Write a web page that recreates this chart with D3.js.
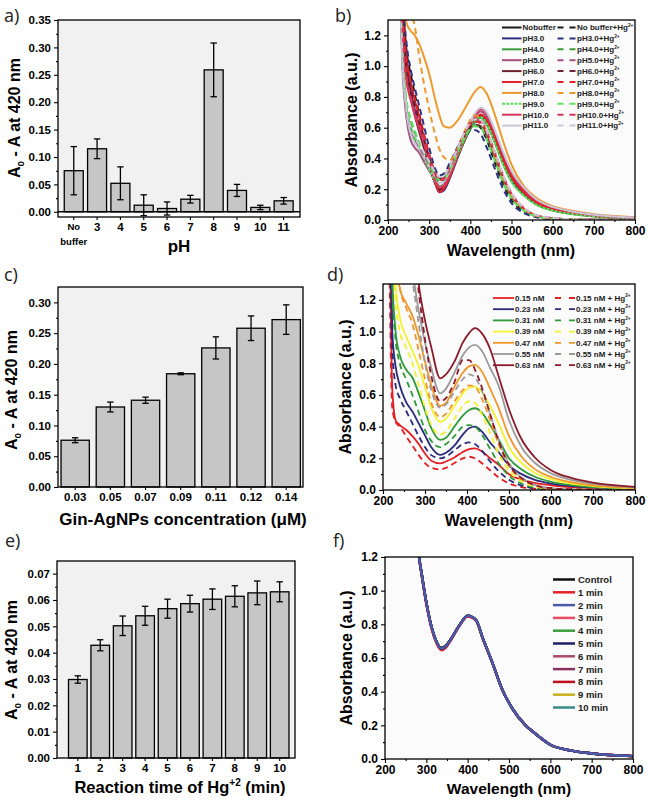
<!DOCTYPE html>
<html><head><meta charset="utf-8">
<script src="https://cdn.jsdelivr.net/npm/d3@7"></script>
<style>body{margin:0;background:#fff}svg{display:block}</style>
</head><body><svg id="chart" width="648" height="802"></svg>
<script>
// ---------- DATA ----------
// (a) pH effect
const phCats = ["No buffer","3","4","5","6","7","8","9","10","11"];
const phValues = [0.075,0.115,0.052,0.012,0.006,0.023,0.259,0.039,0.008,0.020];
const phErrors = [0.044,0.018,0.030,0.019,0.012,0.007,0.049,0.011,0.004,0.006];
const phTicks = [0,0.05,0.10,0.15,0.20,0.25,0.30,0.35];
const phMinor = [0.025,0.075,0.125,0.175,0.225,0.275,0.325];
// (c) concentration
const concCats = ["0.03","0.05","0.07","0.09","0.11","0.12","0.14"];
const concValues = [0.076,0.130,0.141,0.184,0.226,0.258,0.272];
const concErrors = [0.004,0.008,0.005,0.0015,0.018,0.020,0.024];
const concTicks = [0,0.05,0.10,0.15,0.20,0.25,0.30];
const concMinor = [0.025,0.075,0.125,0.175,0.225,0.275];
// (e) reaction time
const timeCats = ["1","2","3","4","5","6","7","8","9","10"];
const timeValues = [0.0298,0.0428,0.0502,0.0540,0.0567,0.0586,0.0603,0.0614,0.0627,0.0631];
const timeErrors = [0.0014,0.0021,0.0037,0.0036,0.0036,0.0032,0.0039,0.0040,0.0045,0.0038];
const timeTicks = [0,0.01,0.02,0.03,0.04,0.05,0.06,0.07];
const timeMinor = [0.005,0.015,0.025,0.035,0.045,0.055,0.065];

// spectra axes
const wlTicks = [200,300,400,500,600,700,800];
const wlMinor = [250,350,450,550,650,750];
const absTicks = [0,0.2,0.4,0.6,0.8,1.0,1.2];
const absMinor = [0.1,0.3,0.5,0.7,0.9,1.1];

// (b) pH spectra
const wavelengthsB = [225,235,245,255,265,275,285,300,315,325,335,350,370,390,410,425,440,460,480,500,530,560,600,650,700,800];
const bNoBuffer = [2.2,1.35,0.98,0.82,0.70,0.60,0.50,0.36,0.24,0.195,0.21,0.29,0.42,0.54,0.64,0.68,0.64,0.52,0.38,0.27,0.17,0.11,0.07,0.042,0.027,0.012];
const bPH3 = [2.3,1.4,1.0,0.84,0.72,0.62,0.52,0.36,0.235,0.18,0.19,0.27,0.41,0.54,0.64,0.675,0.63,0.51,0.37,0.26,0.165,0.105,0.065,0.04,0.025,0.011];
const bPH4 = [2.0,1.1,0.72,0.6,0.52,0.46,0.41,0.33,0.25,0.21,0.22,0.29,0.42,0.54,0.63,0.665,0.62,0.5,0.36,0.25,0.16,0.1,0.062,0.038,0.024,0.01];
const bPH5 = [1.9,1.0,0.66,0.52,0.47,0.44,0.39,0.32,0.26,0.22,0.23,0.31,0.44,0.57,0.67,0.705,0.67,0.55,0.41,0.3,0.19,0.125,0.08,0.05,0.032,0.015];
const bPH6 = [2.2,1.3,0.95,0.8,0.68,0.58,0.49,0.35,0.24,0.2,0.215,0.3,0.43,0.55,0.645,0.68,0.645,0.53,0.39,0.28,0.175,0.112,0.07,0.043,0.027,0.012];
const bPH7 = [2.4,1.5,1.08,0.9,0.78,0.68,0.56,0.38,0.24,0.18,0.2,0.28,0.42,0.55,0.65,0.685,0.65,0.53,0.39,0.28,0.18,0.115,0.072,0.045,0.028,0.013];
const bPH8 = [2.6,1.6,1.28,1.23,1.2,1.15,1.08,0.95,0.78,0.68,0.61,0.6,0.65,0.74,0.83,0.865,0.82,0.68,0.51,0.36,0.22,0.145,0.09,0.058,0.038,0.018];
const bPH9 = [2.0,1.05,0.74,0.62,0.54,0.48,0.42,0.33,0.25,0.215,0.225,0.3,0.43,0.55,0.64,0.67,0.625,0.5,0.36,0.25,0.16,0.1,0.062,0.038,0.024,0.01];
const bPH10 = [2.1,1.2,0.9,0.78,0.68,0.6,0.52,0.38,0.26,0.21,0.22,0.3,0.44,0.57,0.68,0.72,0.69,0.57,0.43,0.31,0.2,0.13,0.082,0.052,0.033,0.015];
const bPH11 = [2.0,1.05,0.7,0.56,0.5,0.46,0.42,0.35,0.28,0.24,0.25,0.32,0.45,0.58,0.69,0.73,0.7,0.58,0.44,0.32,0.21,0.135,0.085,0.054,0.034,0.016];
const bNoBufferHg = [2.3,1.45,1.1,0.95,0.82,0.7,0.58,0.42,0.3,0.26,0.27,0.34,0.46,0.57,0.62,0.6,0.52,0.37,0.23,0.13,0.055,0.022,0.008,0.003,0.002,0];
const bPH3Hg = [2.4,1.5,1.15,0.98,0.86,0.75,0.64,0.47,0.33,0.29,0.3,0.37,0.48,0.57,0.585,0.56,0.47,0.33,0.2,0.11,0.045,0.018,0.007,0.003,0.002,0];
const bPH4Hg = [2.0,1.1,0.76,0.65,0.57,0.5,0.44,0.36,0.28,0.25,0.26,0.33,0.45,0.56,0.62,0.61,0.54,0.4,0.26,0.15,0.065,0.027,0.01,0.004,0.002,0];
const bPH5Hg = [2.0,1.05,0.72,0.6,0.53,0.48,0.43,0.36,0.29,0.26,0.27,0.34,0.46,0.58,0.645,0.64,0.57,0.43,0.28,0.17,0.075,0.03,0.012,0.005,0.003,0];
const bPH6Hg = [2.2,1.35,1.0,0.86,0.75,0.65,0.55,0.41,0.3,0.27,0.28,0.35,0.47,0.57,0.62,0.61,0.54,0.4,0.26,0.15,0.065,0.026,0.01,0.004,0.002,0];
const bPH7Hg = [2.3,1.4,1.05,0.9,0.79,0.69,0.58,0.43,0.3,0.26,0.27,0.34,0.47,0.58,0.64,0.63,0.56,0.42,0.27,0.16,0.07,0.028,0.011,0.004,0.002,0];
const bPH8Hg = [2.8,2.0,1.55,1.36,1.26,1.08,0.92,0.72,0.55,0.46,0.41,0.39,0.47,0.6,0.68,0.66,0.58,0.42,0.27,0.16,0.07,0.028,0.011,0.004,0.002,0];
const bPH9Hg = [2.0,1.1,0.78,0.66,0.58,0.51,0.45,0.37,0.29,0.26,0.265,0.33,0.45,0.56,0.61,0.6,0.52,0.38,0.24,0.14,0.06,0.024,0.009,0.004,0.002,0];
const bPH10Hg = [2.1,1.25,0.93,0.8,0.7,0.62,0.54,0.41,0.3,0.26,0.265,0.34,0.47,0.59,0.655,0.65,0.58,0.44,0.29,0.175,0.08,0.032,0.013,0.005,0.003,0];
const bPH11Hg = [2.0,1.05,0.73,0.6,0.54,0.49,0.45,0.38,0.31,0.28,0.285,0.35,0.47,0.59,0.655,0.65,0.58,0.44,0.29,0.175,0.08,0.032,0.013,0.005,0.003,0];
const bSolidNames = ["Nobuffer","pH3.0","pH4.0","pH5.0","pH6.0","pH7.0","pH8.0","pH9.0","pH10.0","pH11.0"];
const bDashedNames = ["No buffer+Hg","pH3.0+Hg","pH4.0+Hg","pH5.0+Hg","pH6.0+Hg","pH7.0+Hg","pH8.0+Hg","pH9.0+Hg","pH10.0+Hg","pH11.0+Hg"];
const bSolidValues = [bNoBuffer,bPH3,bPH4,bPH5,bPH6,bPH7,bPH8,bPH9,bPH10,bPH11];
const bDashedValues = [bNoBufferHg,bPH3Hg,bPH4Hg,bPH5Hg,bPH6Hg,bPH7Hg,bPH8Hg,bPH9Hg,bPH10Hg,bPH11Hg];
const bColors = ["#1a1a1a","#2e3182","#3c9c3c","#a5507c","#6e2232","#e8202a","#eb9a2e","#5ee05e","#d8365c","#cbc7da"];

// (d) concentration spectra
const wavelengthsD = [215,222,230,240,255,270,285,300,315,336,350,370,390,405,419,435,455,475,500,530,560,600,650,700,800];
const d015 = [2.0,0.64,0.44,0.41,0.38,0.34,0.29,0.23,0.185,0.168,0.18,0.205,0.24,0.258,0.263,0.245,0.2,0.16,0.1,0.065,0.045,0.03,0.018,0.011,0.005];
const d023 = [2.5,1.0,0.78,0.66,0.555,0.495,0.42,0.345,0.27,0.222,0.235,0.28,0.35,0.39,0.40,0.37,0.3,0.24,0.155,0.1,0.065,0.04,0.024,0.015,0.007];
const d031 = [2.8,1.35,1.0,0.85,0.76,0.71,0.61,0.5,0.39,0.316,0.33,0.4,0.47,0.505,0.516,0.49,0.41,0.32,0.2,0.13,0.085,0.052,0.031,0.019,0.009];
const d039 = [3.2,1.8,1.3,1.09,0.97,0.88,0.78,0.65,0.52,0.43,0.45,0.53,0.61,0.645,0.653,0.62,0.53,0.42,0.27,0.17,0.11,0.068,0.04,0.025,0.011];
const d047 = [3.5,2.3,1.6,1.27,1.18,1.1,0.97,0.81,0.66,0.53,0.55,0.65,0.74,0.78,0.79,0.75,0.64,0.52,0.34,0.21,0.135,0.082,0.048,0.03,0.013];
const d055 = [4.0,3.0,2.2,1.8,1.6,1.38,1.13,0.93,0.77,0.61,0.64,0.74,0.85,0.9,0.916,0.88,0.77,0.66,0.44,0.27,0.175,0.105,0.063,0.04,0.017];
const d063 = [4.5,3.5,2.8,2.3,2.0,1.7,1.3,1.07,0.9,0.705,0.73,0.81,0.93,0.99,1.021,0.99,0.89,0.72,0.51,0.32,0.21,0.125,0.075,0.047,0.02];
const d015Hg = [1.5,0.52,0.43,0.4,0.34,0.28,0.22,0.17,0.14,0.13,0.14,0.17,0.2,0.21,0.2,0.17,0.125,0.08,0.042,0.018,0.008,0.003,0.001,0,0];
const d023Hg = [2.0,0.9,0.66,0.58,0.5,0.42,0.34,0.27,0.22,0.2,0.21,0.25,0.29,0.3,0.29,0.25,0.18,0.12,0.065,0.028,0.012,0.004,0.001,0,0];
const d031Hg = [2.5,1.3,0.95,0.8,0.7,0.6,0.49,0.38,0.31,0.27,0.29,0.34,0.4,0.41,0.4,0.35,0.26,0.17,0.09,0.04,0.017,0.006,0.002,0.001,0];
const d039Hg = [3.0,1.7,1.2,1.0,0.9,0.8,0.66,0.52,0.41,0.35,0.37,0.45,0.53,0.56,0.55,0.48,0.36,0.23,0.12,0.055,0.023,0.008,0.003,0.001,0];
const d047Hg = [3.3,2.2,1.55,1.28,1.15,1.05,0.88,0.7,0.55,0.46,0.48,0.56,0.63,0.66,0.65,0.58,0.44,0.29,0.15,0.07,0.03,0.01,0.004,0.002,0];
const d055Hg = [3.8,2.8,2.1,1.7,1.5,1.32,1.05,0.8,0.63,0.52,0.54,0.62,0.7,0.73,0.71,0.63,0.48,0.32,0.17,0.08,0.034,0.012,0.004,0.002,0];
const d063Hg = [4.3,3.3,2.6,2.2,1.9,1.6,1.25,0.95,0.72,0.56,0.58,0.68,0.82,0.82,0.76,0.65,0.48,0.31,0.16,0.075,0.032,0.012,0.005,0.002,0];
const dSolidNames = ["0.15 nM","0.23 nM","0.31 nM","0.39 nM","0.47 nM","0.55 nM","0.63 nM"];
const dDashedNames = ["0.15 nM + Hg","0.23 nM + Hg","0.31 nM + Hg","0.39 nM + Hg","0.47 nM + Hg","0.55 nM + Hg","0.63 nM + Hg"];
const dSolidValues = [d015,d023,d031,d039,d047,d055,d063];
const dDashedValues = [d015Hg,d023Hg,d031Hg,d039Hg,d047Hg,d055Hg,d063Hg];
const dColors = ["#e31e24","#2a2a7c","#2e9a3a","#f2f230","#f0962a","#9a9a9a","#8b1a2a"];

// (f) time spectra
const wavelengthsF = [270,280,290,300,312,324,336,348,360,380,400,420,436,460,484,508,540,564,600,650,700,800];
const fControl = [1.55,1.25,1.08,0.93,0.79,0.70,0.660,0.675,0.715,0.795,0.850,0.825,0.72,0.57,0.41,0.30,0.20,0.15,0.085,0.05,0.033,0.017];
const f1 = [1.55,1.25,1.07,0.92,0.78,0.69,0.646,0.663,0.708,0.790,0.846,0.822,0.718,0.568,0.41,0.30,0.20,0.15,0.085,0.05,0.033,0.017];
const f2 = [1.55,1.25,1.08,0.93,0.79,0.70,0.656,0.672,0.713,0.793,0.850,0.826,0.722,0.570,0.41,0.30,0.20,0.15,0.085,0.05,0.033,0.017];
const f3 = [1.55,1.25,1.075,0.925,0.785,0.695,0.652,0.668,0.710,0.791,0.848,0.824,0.720,0.569,0.41,0.30,0.20,0.15,0.085,0.05,0.033,0.017];
const f4 = [1.55,1.25,1.08,0.93,0.79,0.70,0.658,0.673,0.714,0.794,0.851,0.826,0.721,0.570,0.41,0.30,0.20,0.15,0.085,0.05,0.033,0.017];
const f5 = [1.55,1.25,1.08,0.93,0.79,0.70,0.655,0.671,0.713,0.794,0.852,0.827,0.722,0.571,0.411,0.30,0.20,0.15,0.085,0.05,0.033,0.017];
const f6 = [1.55,1.25,1.08,0.93,0.79,0.70,0.657,0.672,0.713,0.793,0.850,0.825,0.721,0.570,0.41,0.30,0.20,0.15,0.085,0.05,0.033,0.017];
const f7 = [1.55,1.25,1.08,0.93,0.79,0.70,0.659,0.674,0.714,0.794,0.851,0.826,0.721,0.570,0.41,0.30,0.20,0.15,0.085,0.05,0.033,0.017];
const f8 = [1.55,1.25,1.08,0.93,0.79,0.70,0.657,0.673,0.714,0.794,0.851,0.826,0.722,0.571,0.411,0.30,0.20,0.15,0.085,0.05,0.033,0.017];
const f9 = [1.55,1.25,1.08,0.93,0.79,0.70,0.660,0.675,0.715,0.795,0.852,0.827,0.722,0.571,0.411,0.30,0.20,0.15,0.085,0.05,0.033,0.017];
const f10 = [1.55,1.25,1.08,0.93,0.79,0.70,0.661,0.676,0.716,0.795,0.852,0.827,0.722,0.571,0.411,0.30,0.20,0.15,0.085,0.05,0.033,0.017];
const fNames = ["Control","1 min","2 min","3 min","4 min","5 min","6 min","7 min","8 min","9 min","10 min"];
const fValues = [fControl,f1,f2,f3,f4,f5,f6,f7,f8,f9,f10];
const fColors = ["#111111","#e8202a","#4a5aa8","#ea4a62","#3aa03a","#1e1e64","#b04a6a","#8a3060","#c01020","#c8b020","#3a8a8a"];
const fDrawOrder = [10,9,8,7,6,4,3,0,1,5,2];

// ---------- DRAWING ----------
const FONT = "'Liberation Sans', Arial, Helvetica, sans-serif";
const svg = d3.select("#chart");
svg.append("rect").attr("width",648).attr("height",802).attr("fill","#fff");

function styleAxis(g, fs){
  g.select(".domain").remove();
  g.selectAll(".tick line").attr("stroke","#000").attr("stroke-width",1.1);
  g.selectAll(".tick text").attr("fill","#000")
    .style("font-family",FONT).style("font-size",fs+"px").style("font-weight","bold");
}
function panelLabel(t,x,y){
  svg.append("text").attr("x",x).attr("y",y).text(t)
    .style("font-family","'Open Sans', sans-serif").style("font-size","18px").attr("fill","#222");
}
function yTitleA(x,y,fs){
  const t = svg.append("text").attr("transform",`translate(${x},${y}) rotate(-90)`)
    .attr("text-anchor","middle").style("font-family",FONT).style("font-weight","bold").style("font-size",fs+"px");
  t.append("tspan").text("A");
  t.append("tspan").attr("dy",4).style("font-size",(fs*0.62)+"px").text("0");
  t.append("tspan").attr("dy",-4).text(" - A at 420 nm");
}
function titleText(x,y,fs,txt,rot){
  return svg.append("text").attr("transform",`translate(${x},${y})`+(rot?" rotate(-90)":""))
    .attr("text-anchor","middle").style("font-family",FONT).style("font-weight","bold").style("font-size",fs+"px").text(txt);
}

function barPanel(o){
  const g = svg.append("g");
  const y = d3.scaleLinear().domain(o.yDomain).range([o.y1,o.y0]);
  const x = d3.scaleBand().domain(o.cats).range(o.bandRange).paddingInner(o.pad).paddingOuter(o.pad/2);
  g.append("rect").attr("x",o.x0).attr("y",o.y0).attr("width",o.x1-o.x0).attr("height",o.y1-o.y0).attr("fill","#f1f1f1");
  if(o.zeroLine){
    g.append("rect").attr("x",o.x0).attr("y",y(0)).attr("width",o.x1-o.x0).attr("height",o.y1-y(0)).attr("fill","#fff");
  }
  g.selectAll("rect.bar").data(o.cats).join("rect").attr("class","bar")
    .attr("x",d=>x(d)).attr("width",x.bandwidth())
    .attr("y",(d,i)=>y(o.values[i])).attr("height",(d,i)=>y(0)-y(o.values[i]))
    .attr("fill","#c6c6c6").attr("stroke","#000").attr("stroke-width",1.3);
  const eg = g.selectAll("g.err").data(o.cats).join("g").attr("class","err");
  const cx = d=>x(d)+x.bandwidth()/2;
  eg.append("line").attr("x1",cx).attr("x2",cx)
    .attr("y1",(d,i)=>y(o.values[i]-o.errors[i])).attr("y2",(d,i)=>y(o.values[i]+o.errors[i]))
    .attr("stroke","#000").attr("stroke-width",1.3);
  [1,-1].forEach(s=>{
    eg.append("line").attr("x1",d=>cx(d)-3.2).attr("x2",d=>cx(d)+3.2)
      .attr("y1",(d,i)=>y(o.values[i]+s*o.errors[i])).attr("y2",(d,i)=>y(o.values[i]+s*o.errors[i]))
      .attr("stroke","#000").attr("stroke-width",1.3);
  });
  if(o.zeroLine){
    g.append("line").attr("x1",o.x0).attr("x2",o.x1).attr("y1",y(0)).attr("y2",y(0)).attr("stroke","#000").attr("stroke-width",1.5);
  }
  g.append("rect").attr("x",o.x0).attr("y",o.y0).attr("width",o.x1-o.x0).attr("height",o.y1-o.y0)
    .attr("fill","none").attr("stroke","#000").attr("stroke-width",1.3);
  const ya = g.append("g").attr("transform",`translate(${o.x0},0)`)
    .call(d3.axisLeft(y).tickValues(o.ticks).tickFormat(d3.format(o.fmt)).tickSize(4).tickPadding(3));
  styleAxis(ya,o.tickFs);
  const ym = g.append("g").attr("transform",`translate(${o.x0},0)`)
    .call(d3.axisLeft(y).tickValues(o.minor).tickFormat("").tickSize(2));
  styleAxis(ym,o.tickFs);
  const xa = g.append("g").attr("transform",`translate(0,${o.y1})`)
    .call(d3.axisBottom(x).tickSize(3).tickPadding(3));
  styleAxis(xa,o.tickFs);
  return {g,xa,x,y};
}

function linePanel(o){
  const g = svg.append("g");
  const x = d3.scaleLinear().domain([200,800]).range([o.x0,o.x1]);
  const y = d3.scaleLinear().domain(o.yDomain).range([o.y1,o.y0]);
  g.append("rect").attr("x",o.x0).attr("y",o.y0).attr("width",o.x1-o.x0).attr("height",o.y1-o.y0).attr("fill","#fbfbfb");
  const cid = "clip"+o.id;
  g.append("clipPath").attr("id",cid).append("rect").attr("x",o.x0).attr("y",o.y0).attr("width",o.x1-o.x0).attr("height",o.y1-o.y0);
  const line = d3.line().x((d,i)=>x(o.wl[i])).y(d=>y(d)).curve(d3.curveMonotoneX);
  const pg = g.append("g").attr("clip-path",`url(#${cid})`);
  o.series.forEach(s=>{
    pg.append("path").attr("d",line(s.values)).attr("fill","none").attr("stroke",s.color)
      .attr("stroke-width",s.width||o.lw).attr("stroke-dasharray",s.dash||null)
      .attr("stroke-linejoin","round");
  });
  g.append("rect").attr("x",o.x0).attr("y",o.y0).attr("width",o.x1-o.x0).attr("height",o.y1-o.y0)
    .attr("fill","none").attr("stroke","#000").attr("stroke-width",1.3);
  const ya = g.append("g").attr("transform",`translate(${o.x0},0)`)
    .call(d3.axisLeft(y).tickValues(absTicks).tickFormat(d3.format(".1f")).tickSize(4).tickPadding(3));
  styleAxis(ya,12);
  const ym = g.append("g").attr("transform",`translate(${o.x0},0)`)
    .call(d3.axisLeft(y).tickValues(absMinor).tickFormat("").tickSize(2));
  styleAxis(ym,12);
  const xa = g.append("g").attr("transform",`translate(0,${o.y1})`)
    .call(d3.axisBottom(x).tickValues(wlTicks).tickFormat(d3.format("d")).tickSize(4).tickPadding(2));
  styleAxis(xa,12);
  const xm = g.append("g").attr("transform",`translate(0,${o.y1})`)
    .call(d3.axisBottom(x).tickValues(wlMinor).tickFormat("").tickSize(2));
  styleAxis(xm,12);
  // legend
  o.legend.forEach(L=>{
    const yy = L.y;
    g.append("line").attr("x1",L.lx1).attr("x2",L.lx2).attr("y1",yy).attr("y2",yy)
      .attr("stroke",L.color).attr("stroke-width",L.width).attr("stroke-dasharray",L.dash||null);
    const t = g.append("text").attr("x",L.tx).attr("y",yy+L.fs*0.36)
      .style("font-family",FONT).style("font-weight","bold").style("font-size",L.fs+"px").attr("fill","#222");
    t.append("tspan").text(L.name);
    if(L.sup){ t.append("tspan").attr("dy",-L.fs*0.45).style("font-size",(L.fs*0.6)+"px").text(L.sup); }
  });
  return {g,x,y};
}

// ---- panel a ----
const pa = barPanel({x0:58,x1:300,y0:20,y1:217,yDomain:[-0.0095,0.35],cats:phCats,values:phValues,errors:phErrors,
  bandRange:[62.1,295.3],pad:0.185,ticks:phTicks,minor:phMinor,fmt:".2f",tickFs:11.5,zeroLine:true});
pa.xa.selectAll(".tick text").filter(d=>d==="No buffer").each(function(){
  const t = d3.select(this); t.text(null).style("font-size","9.5px");
  t.append("tspan").attr("x",0).text("No");
  t.append("tspan").attr("x",0).attr("dy","1.6em").text("buffer");
});
panelLabel("a)",4,22);
yTitleA(20,118,16);
titleText(179,252,17,"pH");

// ---- panel c ----
barPanel({x0:58,x1:303,y0:287,y1:487,yDomain:[0,0.325],cats:concCats,values:concValues,errors:concErrors,
  bandRange:[57.6,303.8],pad:0.195,ticks:concTicks,minor:concMinor,fmt:".2f",tickFs:11.5});
panelLabel("c)",4,281);
yTitleA(17,390,16);
titleText(183,525,17,"Gin-AgNPs concentration (\u03bcM)");

// ---- panel e ----
barPanel({x0:57,x1:295,y0:561,y1:758,yDomain:[0,0.0748],cats:timeCats,values:timeValues,errors:timeErrors,
  bandRange:[66.6,290.9],pad:0.17,ticks:timeTicks,minor:timeMinor,fmt:".2f",tickFs:11.5});
panelLabel("e)",5,547);
yTitleA(17,660,16);
{
  const t = titleText(180,793,16.5,"");
  t.append("tspan").text("Reaction time of Hg");
  t.append("tspan").attr("dy",-7).style("font-size","10px").text("+2");
  t.append("tspan").attr("dy",7).text(" (min)");
}

// ---- panel b ----
{
  const series = [];
  bSolidValues.forEach((v,i)=>series.push({values:v,color:bColors[i],dash:i===7?"3,1.2":null}));
  bDashedValues.forEach((v,i)=>series.push({values:v,color:bColors[i],dash:"6,4"}));
  const legend = [];
  bSolidNames.forEach((n,i)=>{
    const yy = 27.5 + i*10.9;
    legend.push({y:yy,lx1:502,lx2:521.5,tx:522.5,color:bColors[i],width:2,dash:i===7?"3,1.2":null,name:n,fs:8});
    legend.push({y:yy,lx1:557.5,lx2:575.5,tx:577,color:bColors[i],width:2,dash:"6,6",name:bDashedNames[i],sup:"2+",fs:8});
  });
  linePanel({id:"b",x0:388,x1:635,y0:20,y1:220,yDomain:[0,1.3],wl:wavelengthsB,series,lw:2,legend});
  panelLabel("b)",335,22);
  titleText(357,120,16,"Absorbance (a.u.)",true);
  titleText(511,256,16,"Wavelength (nm)");
}

// ---- panel d ----
{
  const series = [];
  dSolidValues.forEach((v,i)=>series.push({values:v,color:dColors[i]}));
  dDashedValues.forEach((v,i)=>series.push({values:v,color:dColors[i],dash:"6,4"}));
  const legend = [];
  dSolidNames.forEach((n,i)=>{
    const yy = 298 + i*11.2;
    legend.push({y:yy,lx1:493,lx2:514,tx:515,color:dColors[i],width:1.8,name:n,fs:8});
    legend.push({y:yy,lx1:555,lx2:575,tx:576,color:dColors[i],width:1.8,dash:"6,8",name:dDashedNames[i],sup:"2+",fs:8});
  });
  linePanel({id:"d",x0:383,x1:635,y0:284,y1:490,yDomain:[0,1.3],wl:wavelengthsD,series,lw:1.8,legend});
  panelLabel("d)",327,281);
  titleText(351,387,16,"Absorbance (a.u.)",true);
  titleText(509,526,16,"Wavelength (nm)");
}

// ---- panel f ----
{
  const series = fDrawOrder.map(i=>({values:fValues[i],color:fColors[i]}));
  const legend = fNames.map((n,i)=>({y:579.5+i*12.8,lx1:553,lx2:575,tx:578,color:fColors[i],width:2.5,name:n,fs:9.5}));
  linePanel({id:"f",x0:385,x1:633,y0:557,y1:759,yDomain:[0,1.2],wl:wavelengthsF,series,lw:2.4,legend});
  panelLabel("f)",333,547);
  titleText(352,658,16,"Absorbance (a.u.)",true);
  titleText(509,794,15.5,"Wavelength (nm)");
}
</script></body></html>
